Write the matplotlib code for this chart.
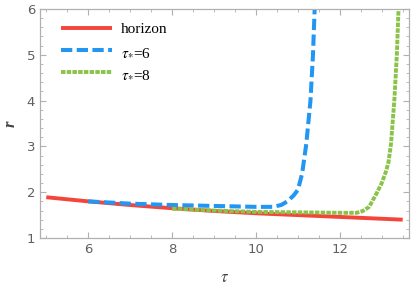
import matplotlib
matplotlib.use("Agg")
import matplotlib.pyplot as plt
from matplotlib.ticker import MultipleLocator

plt.rcParams["mathtext.fontset"] = "stix"

# data
tau_h = [5, 6, 7, 8, 9, 10, 11, 12, 13, 13.5]
r_h = [1.89, 1.80, 1.72, 1.65, 1.59, 1.54, 1.50, 1.46, 1.42, 1.40]

tau_6 = [6, 7, 8, 9, 10, 10.4, 10.6, 10.75, 10.9, 11.0, 11.1, 11.2, 11.3, 11.36, 11.40]
r_6 = [1.80, 1.75, 1.72, 1.70, 1.68, 1.68, 1.72, 1.80, 1.93, 2.05, 2.40, 3.05, 4.0, 5.0, 6.0]

tau_8 = [8, 9, 10, 11, 12, 12.4, 12.55, 12.7, 12.88, 13.0, 13.1, 13.16, 13.22, 13.30, 13.36, 13.40]
r_8 = [1.64, 1.60, 1.57, 1.56, 1.55, 1.55, 1.59, 1.68, 1.98, 2.2, 2.45, 2.65, 3.05, 4.0, 5.0, 6.0]

labels = ["horizon", r"$\tau_{*}$=6", r"$\tau_{*}$=8"]

fig = plt.figure(figsize=(4.12, 2.89), dpi=100)
ax = fig.add_axes([40/412, 51/289, 369/412, 229/289])

red, blue, green = "#f4453a", "#2196f3", "#8bc34a"
ax.plot(tau_h, r_h, color=red, lw=2.8, label=labels[0], solid_capstyle="butt")
ax.plot(tau_6, r_6, color=blue, lw=2.9, ls=(0, (2.8, 1.1)), label=labels[1])
ax.plot(tau_8, r_8, color=green, lw=2.8, ls=(0, (1.15, 0.32)), label=labels[2])

ax.set_xlim(4.85, 13.65)
ax.set_ylim(1, 6)
ax.xaxis.set_major_locator(MultipleLocator(2))
ax.xaxis.set_minor_locator(MultipleLocator(0.5))
ax.yaxis.set_major_locator(MultipleLocator(1))
ax.yaxis.set_minor_locator(MultipleLocator(0.2))

for s in ax.spines.values():
    s.set_color("#b0b0b0")
    s.set_linewidth(0.9)
ax.tick_params(which="both", direction="in", top=True, right=True, colors="#b0b0b0",
               labelcolor="#606060", labelsize=9.5)
ax.tick_params(which="major", length=4, width=0.8)
ax.tick_params(which="minor", length=2.2, width=0.6)

ax.set_xlabel(r"$\tau$", fontsize=12, color="#444444", labelpad=9)
ax.set_ylabel("r", fontsize=12, family="Liberation Serif", style="italic",
              weight="bold", color="#444444", labelpad=6)

leg = ax.legend(loc="upper left", frameon=False, prop={"family": "Liberation Serif", "size": 11},
                handlelength=3.3, handletextpad=0.6, labelspacing=0.55,
                bbox_to_anchor=(0.02, 1.0))

fig.savefig("out.png", dpi=100)
